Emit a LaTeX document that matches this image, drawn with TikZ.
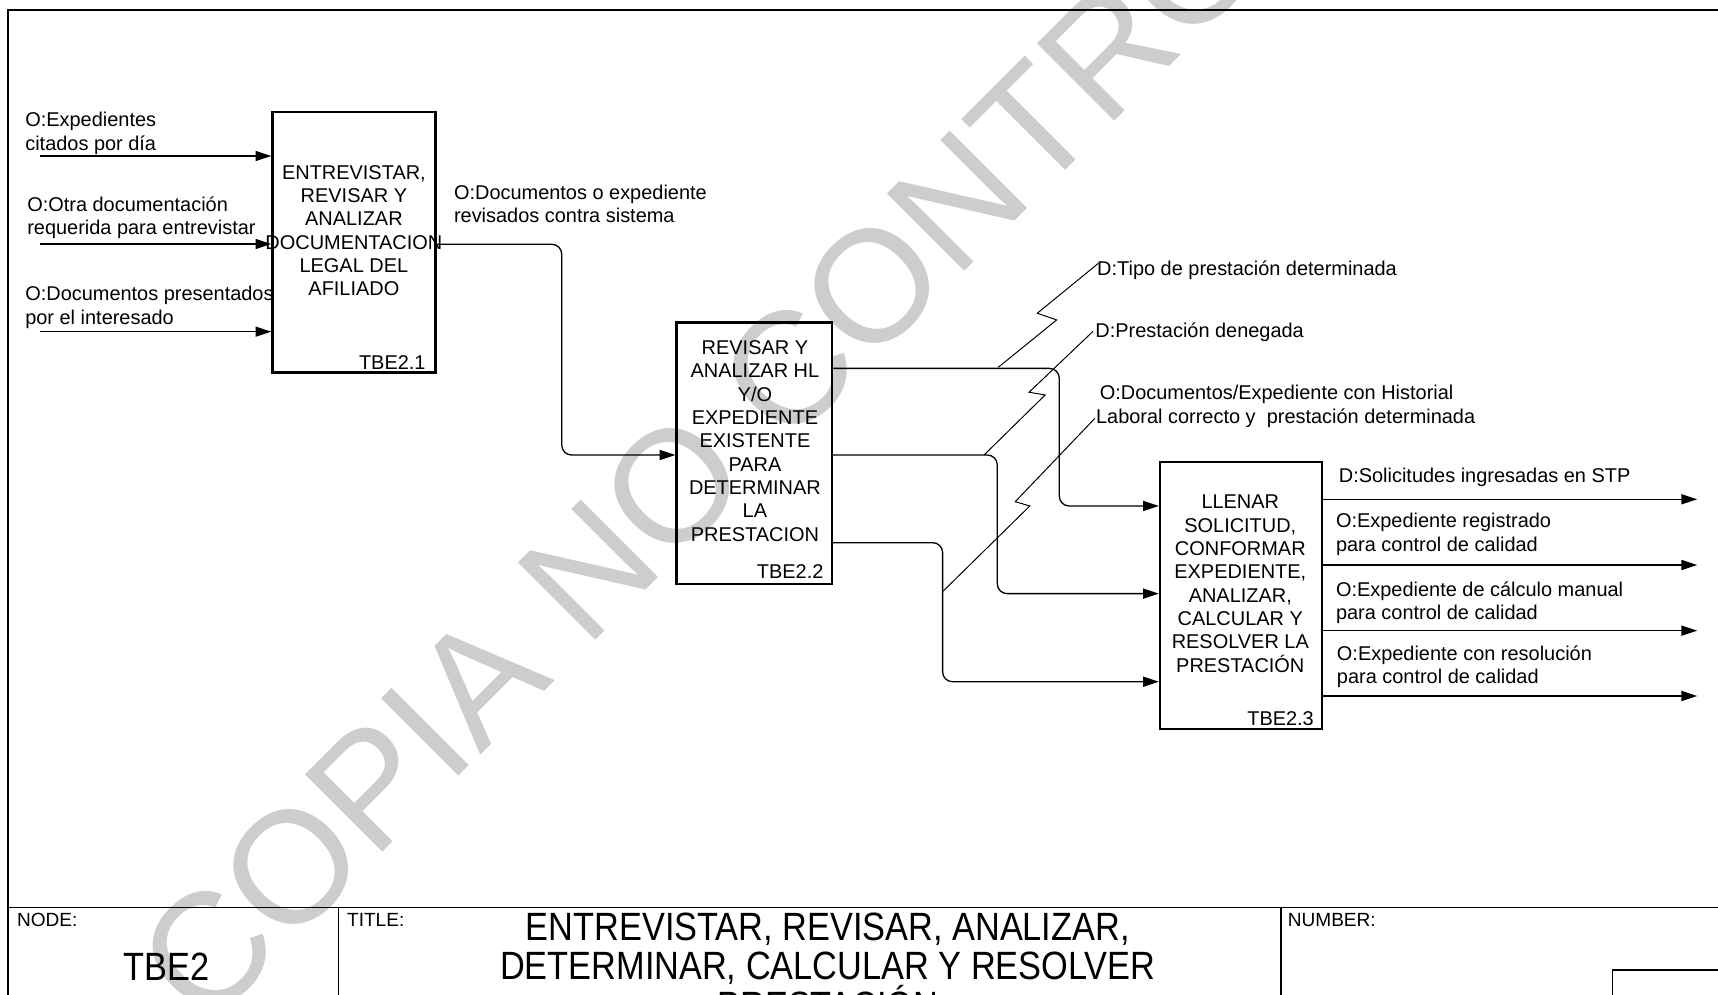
\documentclass[tikz,border=0pt]{standalone}
\usepackage{fontspec}
\setmainfont{Liberation Sans}
\newfontfamily\narrowfont[FakeStretch=0.87]{Liberation Sans}
\usetikzlibrary{arrows.meta,calc}
\definecolor{wmgray}{RGB}{205,205,205}
\begin{document}
\begin{tikzpicture}[x=0.5pt,y=-0.5pt,
  txt/.style={inner sep=0pt, font=\fontsize{9.1}{10.65}\selectfont},
  lbl/.style={txt, align=left, anchor=west},
  act/.style={draw, line width=1.1pt, inner sep=0pt},
  acttext/.style={txt, align=center},
  actid/.style={txt, anchor=east},
  flow/.style={line width=0.6pt, rounded corners=4.5pt, -{Triangle[length=7.2pt,width=4.6pt]}},
  squig/.style={line width=0.45pt},
  frameline/.style={line width=0.9pt},
  tbline/.style={line width=0.6pt},
  tbsmall/.style={inner sep=0pt, anchor=west, font=\fontsize{8.7}{10}\selectfont},
  tbbig/.style={inner sep=0pt, align=center, font=\narrowfont\fontsize{18}{18}\selectfont},
  wm/.style={inner sep=0pt, text=wmgray, font=\fontsize{72.6}{80}\selectfont}]
\useasboundingbox (0,0) rectangle (1568,908);

% watermark
\node[wm, rotate=45, anchor=base west] (wmark) at (187,941) {COPIA NO CONTROLADA};

% sheet frame and title block
\draw[frameline] (7.5,1000) -- (7.5,9.1) -- (1600,9.1);
\draw[tbline] (7.5,828) -- (1600,828);
\draw[tbline] (308.8,828) -- (308.8,1000);
\draw[tbline] (1169,828) -- (1169,1000);
\draw[tbline] (1600,885.3) -- (1471.7,885.3) -- (1471.7,1000);
\node[tbsmall] (nodelbl) at (15.2,839.7) {NODE:};
\node[tbsmall] (titlelbl) at (316.4,839.7) {TITLE:};
\node[tbsmall] (numlbl) at (1175,839.7) {NUMBER:};
\node[tbbig] (nodeid) at (152,882) {TBE2};
\node[tbbig] (title) at (755.5,882) {ENTREVISTAR, REVISAR, ANALIZAR,\\DETERMINAR, CALCULAR Y RESOLVER\\PRESTACIÓN};

% activities
\node[act, minimum width=74.4pt, minimum height=119.05pt] (b1) at (323.1,221.05) {};
\node[act, minimum width=70.85pt, minimum height=119.25pt] (b2) at (688.45,413.75) {};
\node[act, minimum width=73.95pt, minimum height=121.95pt] (b3) at (1132.65,543.35) {};

\node[acttext] (b1t) at (323,210.5) {ENTREVISTAR,\\REVISAR Y\\ANALIZAR\\DOCUMENTACION\\LEGAL DEL\\AFILIADO};
\node[acttext] (b2t) at (689,402.5) {REVISAR Y\\ANALIZAR HL\\Y/O\\EXPEDIENTE\\EXISTENTE\\PARA\\DETERMINAR\\LA\\PRESTACION};
\node[acttext] (b3t) at (1132,532.8) {LLENAR\\SOLICITUD,\\CONFORMAR\\EXPEDIENTE,\\ANALIZAR,\\CALCULAR Y\\RESOLVER LA\\PRESTACIÓN};

\node[actid] (b1id) at ($(b1.south east)+(-9.8,-10.6)$) {TBE2.1};
\node[actid] (b2id) at ($(b2.south east)+(-8.5,-12.2)$) {TBE2.2};
\node[actid] (b3id) at ($(b3.south east)+(-8.2,-10.6)$) {TBE2.3};

% inputs of TBE2.1
\coordinate (i1) at (36.6,142.4);
\coordinate (i2) at (36.6,222.7);
\coordinate (i3) at (36.6,302.7);
\draw[flow] (i1) -- (i1 -| b1.west);
\draw[flow] (i2) -- (i2 -| b1.west);
\draw[flow] (i3) -- (i3 -| b1.west);
\node[lbl] (li1) at (22.7,121.8) {O:Expedientes\\citados por día};
\node[lbl] (li2) at (24.5,198.8) {O:Otra documentación\\requerida para entrevistar};
\node[lbl] (li3) at (22.7,280.5) {O:Documentos presentados\\por el interesado};

% TBE2.1 -> TBE2.2
\coordinate (h0) at (0,223);
\coordinate (j0) at (512.7,415.3);
\draw[flow] (b1.east |- h0) -| (j0) -- (b2.west |- j0);
\node[lbl] (lo1) at (414,185.9) {O:Documentos o expediente\\revisados contra sistema};

% TBE2.2 -> TBE2.3
\coordinate (h1) at (0,336.2);
\coordinate (h2) at (0,415.3);
\coordinate (h3) at (0,495.3);
\coordinate (k1) at (966.8,461.8);
\coordinate (k2) at (910.2,541.8);
\coordinate (k3) at (860.3,622.2);
\draw[flow] (b2.east |- h1) -| (k1) -- (b3.west |- k1);
\draw[flow] (b2.east |- h2) -| (k2) -- (b3.west |- k2);
\draw[flow] (b2.east |- h3) -| (k3) -- (b3.west |- k3);

% labels joined to their arrows by squiggles
\node[lbl] (ls1) at (1001,246.4) {D:Tipo de prestación determinada};
\node[lbl] (ls2) at (999.4,303.3) {D:Prestación denegada};
\node[lbl] (ls3) at (1000,370.9) {\hspace*{1.7pt}O:Documentos/Expediente con Historial\\Laboral correcto y~ prestación determinada};
\draw[squig] (911.1,335.2) -- (964.4,292) -- (946.7,285.9) -- (1002.5,240.3);
\draw[squig] (898.1,415.3) -- (953.9,360.5) -- (939.2,358.0) -- (997.5,302.5);
\draw[squig] (860.3,540) -- (939.9,461.8) -- (926.6,457.9) -- (999.3,381.8);

% outputs of TBE2.3
\coordinate (e1) at (1549,455.7);
\coordinate (e2) at (1549,515.7);
\coordinate (e3) at (1549,575.6);
\coordinate (e4) at (1549,635.2);
\draw[flow] (b3.east |- e1) -- (e1);
\draw[flow] (b3.east |- e2) -- (e2);
\draw[flow] (b3.east |- e3) -- (e3);
\draw[flow] (b3.east |- e4) -- (e4);
\node[lbl] (lo2) at (1221.6,435.6) {D:Solicitudes ingresadas en STP};
\node[lbl] (lo3) at (1219,487.7) {O:Expediente registrado\\para control de calidad};
\node[lbl] (lo4) at (1219,549.9) {O:Expediente de cálculo manual\\para control de calidad};
\node[lbl] (lo5) at (1219.8,608.3) {O:Expediente con resolución\\para control de calidad};
\end{tikzpicture}
\end{document}
